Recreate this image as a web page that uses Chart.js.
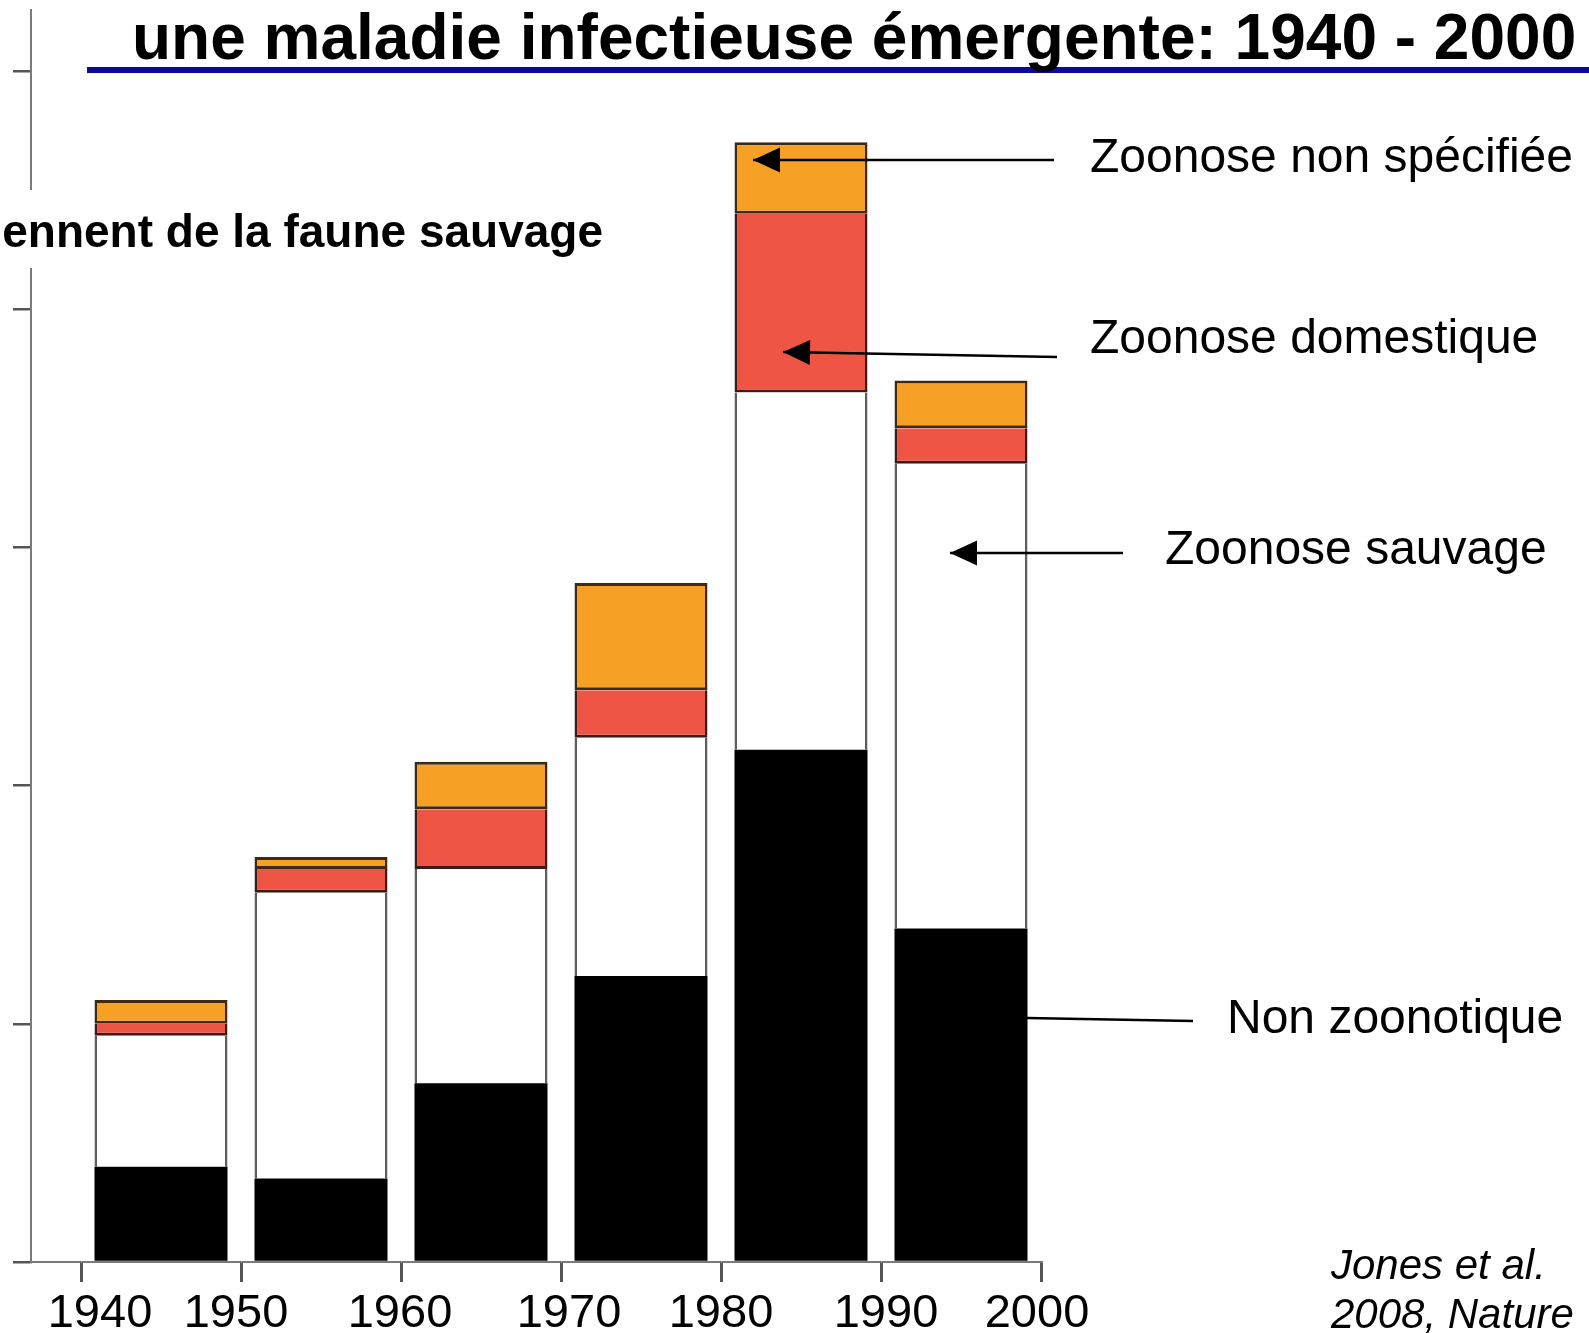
<!DOCTYPE html>
<html><head><meta charset="utf-8">
<script src="https://cdn.jsdelivr.net/npm/chart.js@4/dist/chart.umd.min.js"></script>
<style>html,body{margin:0;padding:0;background:#fff;overflow:hidden}canvas{display:block}</style>
</head><body>
<canvas id="c" width="1589" height="1333"></canvas>
<script>
// ---- data ----
const decadeCenters = [1945, 1955, 1965, 1975, 1985, 1995];
const yearTicks = [1940, 1950, 1960, 1970, 1980, 1990, 2000];
const countTicks = [0, 20, 40, 60, 80, 100];
const nonZoonotique = [8, 7, 15, 24, 43, 28];
const zoonoseSauvage = [11, 24, 18, 20, 30, 39];
const zoonoseDomestique = [1, 2, 5, 4, 15, 3];
const zoonoseNonSpecifiee = [2, 1, 4, 9, 6, 4];
const seriesNames = ['Non zoonotique', 'Zoonose sauvage', 'Zoonose domestique', 'Zoonose non spécifiée'];
const titleText = 'une maladie infectieuse émergente: 1940 - 2000';
const subtitleText = 'ennent de la faune sauvage';
const sourceLines = ['Jones et al.', '2008, Nature'];

// small horizontal nudges of the year labels (px), as placed in the original slide
const yearLabelNudge = [19, -5, -1, 8, 0, 5, -4];

const FONT = "'Liberation Sans', Arial, Helvetica, sans-serif";

function arrow(ctx, x1, y1, x2, y2, head) {
  ctx.beginPath(); ctx.moveTo(x1, y1); ctx.lineTo(x2, y2); ctx.stroke();
  if (head) {
    const a = Math.atan2(y2 - y1, x2 - x1), L = 27, W = 12.5;
    ctx.beginPath();
    ctx.moveTo(x2, y2);
    ctx.lineTo(x2 - L * Math.cos(a) + W * Math.sin(a), y2 - L * Math.sin(a) - W * Math.cos(a));
    ctx.lineTo(x2 - L * Math.cos(a) - W * Math.sin(a), y2 - L * Math.sin(a) + W * Math.cos(a));
    ctx.closePath(); ctx.fill();
  }
}

const annot = {
  id: 'annot',
  afterDraw(chart) {
    const ctx = chart.ctx;
    ctx.save();
    // year labels under the x ticks
    const xs = chart.scales.x;
    ctx.fillStyle = '#000';
    ctx.font = `47px ${FONT}`;
    ctx.textAlign = 'center'; ctx.textBaseline = 'alphabetic';
    yearTicks.forEach((yr, i) => {
      ctx.fillText(String(yr), xs.getPixelForValue(yr) + yearLabelNudge[i], 1327);
    });
    // title + underline
    ctx.fillStyle = '#0b0b98';
    ctx.fillRect(87, 67, 1502, 6);
    ctx.fillStyle = '#000';
    ctx.font = `bold 64px ${FONT}`;
    ctx.textAlign = 'left'; ctx.textBaseline = 'alphabetic';
    ctx.fillText(titleText, 132, 59);
    // subtitle (clipped) with white band over the axis
    ctx.fillStyle = '#fff';
    ctx.fillRect(0, 190, 620, 78);
    ctx.fillStyle = '#000';
    ctx.font = `bold 46px ${FONT}`;
    ctx.textAlign = 'right'; ctx.textBaseline = 'middle';
    ctx.fillText(subtitleText, 603, 234);
    // annotation labels
    ctx.font = `48px ${FONT}`;
    ctx.textAlign = 'left';
    ctx.fillText(seriesNames[3], 1090, 159);
    ctx.fillText(seriesNames[2], 1090, 340);
    ctx.fillText(seriesNames[1], 1165, 551);
    ctx.fillText(seriesNames[0], 1227, 1020);
    // arrows
    ctx.strokeStyle = '#000'; ctx.fillStyle = '#000'; ctx.lineWidth = 2.5;
    arrow(ctx, 1054, 160, 753, 160, true);
    arrow(ctx, 1057, 357, 783, 352, true);
    arrow(ctx, 1123, 553, 950, 553, true);
    arrow(ctx, 1193, 1021, 1027, 1018, false);
    // source
    ctx.font = `italic 42px ${FONT}`;
    ctx.fillText(sourceLines[0], 1331, 1267);
    ctx.fillText(sourceLines[1], 1331, 1316);
    ctx.restore();
  }
};

new Chart(document.getElementById('c'), {
  type: 'bar',
  data: {
    labels: decadeCenters,
    datasets: [
      { label: seriesNames[0], data: nonZoonotique, backgroundColor: '#000', borderColor: '#000', borderWidth: 0 },
      { label: seriesNames[1], data: zoonoseSauvage, backgroundColor: '#fff', borderColor: '#5e5e5e',
        borderWidth: { left: 2.5, right: 2.5, top: 0, bottom: 0 }, borderSkipped: false },
      { label: seriesNames[2], data: zoonoseDomestique, backgroundColor: '#ef5545', borderColor: '#3b1d17',
        borderWidth: { left: 2.5, right: 2.5, top: 0, bottom: 3 }, borderSkipped: false },
      { label: seriesNames[3], data: zoonoseNonSpecifiee, backgroundColor: '#f6a125', borderColor: '#3d2a14',
        borderWidth: { left: 2.5, right: 2.5, top: 3, bottom: 3 }, borderSkipped: false }
    ]
  },
  options: {
    responsive: false, animation: false, devicePixelRatio: 1,
    layout: { padding: { top: 10, right: 548, left: 0, bottom: 0 } },
    datasets: { bar: { barThickness: 133, inflateAmount: 0 } },
    plugins: { legend: { display: false }, tooltip: { enabled: false } },
    scales: {
      x: {
        type: 'linear', stacked: true, min: 1936.875, max: 2000, offset: false,
        afterBuildTicks: s => { s.ticks = yearTicks.map(v => ({ value: v })); },
        afterFit: s => { s.height = 71; },
        grid: { offset: false, drawOnChartArea: false, drawTicks: true, tickLength: 20, color: '#555', lineWidth: 3 },
        border: { display: true, color: '#7a7a7a', width: 2 },
        ticks: { display: false }
      },
      y: {
        stacked: true, min: 0, max: 105.1,
        afterBuildTicks: s => { s.ticks = countTicks.map(v => ({ value: v })); },
        afterFit: s => { s.width = 31; },
        grid: { drawOnChartArea: false, drawTicks: true, tickLength: 18, color: '#555', lineWidth: 2.5 },
        border: { display: true, color: '#7a7a7a', width: 2 },
        ticks: { display: false }
      }
    }
  },
  plugins: [annot]
});
</script>
</body></html>
